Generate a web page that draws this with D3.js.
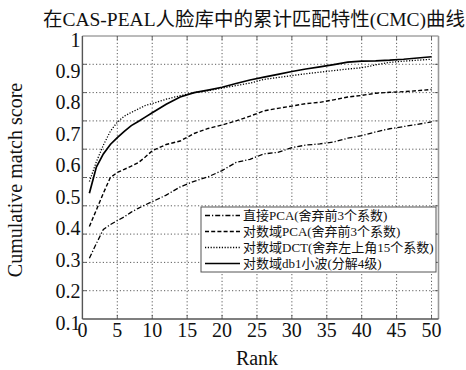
<!DOCTYPE html>
<html>
<head>
<meta charset="utf-8">
<script src="https://cdn.jsdelivr.net/npm/d3@7"></script>
<style>
  html, body { margin: 0; padding: 0; background: #fff; }
  text { font-family: "Liberation Serif", "Noto Sans CJK SC", serif; fill: #111; }
</style>
</head>
<body>
<svg id="chart" width="466" height="370"></svg>
<script>
// rangs
var ranks = [1,2,3,4,5,6,7,8,9,10,12,14,16,18,20,22,24,26,28,30,32,34,36,38,40,42,44,46,48,50];

// 直接PCA (舍弃前3个系数)
var pcaDirect = [0.293,0.340,0.385,0.400,0.413,0.425,0.440,0.452,0.463,0.473,0.494,0.520,0.538,0.552,0.572,0.598,0.608,0.625,0.630,0.645,0.653,0.657,0.663,0.675,0.683,0.695,0.705,0.712,0.719,0.727];
// 对数域PCA (舍弃前3个系数)
var pcaLog = [0.394,0.447,0.500,0.550,0.566,0.576,0.586,0.597,0.615,0.635,0.655,0.666,0.690,0.706,0.717,0.730,0.745,0.762,0.770,0.777,0.785,0.789,0.797,0.806,0.811,0.818,0.821,0.823,0.826,0.830];
// 对数域DCT (舍弃左上角15个系数)
var dctLog = [0.537,0.600,0.653,0.697,0.726,0.745,0.757,0.768,0.779,0.785,0.799,0.810,0.820,0.826,0.834,0.842,0.850,0.862,0.868,0.874,0.880,0.885,0.890,0.895,0.899,0.908,0.916,0.920,0.923,0.926];
// 对数域db1小波 (分解4级)
var db1Log = [0.500,0.583,0.625,0.655,0.677,0.697,0.715,0.728,0.742,0.756,0.783,0.806,0.820,0.828,0.837,0.849,0.860,0.869,0.878,0.887,0.895,0.902,0.909,0.917,0.920,0.921,0.923,0.926,0.930,0.934];

var seriesNames = ["直接PCA(舍弃前3个系数)", "对数域PCA(舍弃前3个系数)", "对数域DCT(舍弃左上角15个系数)", "对数域db1小波(分解4级)"];
var xTicks = [0,5,10,15,20,25,30,35,40,45,50];
var yTicks = [0.1,0.2,0.3,0.4,0.5,0.6,0.7,0.8,0.9,1];
var titre = "在CAS-PEAL人脸库中的累计匹配特性(CMC)曲线";

var styles = [
  {dash: "5,2,1.2,2", width: 1.3},
  {dash: "4,2.2", width: 1.4},
  {dash: "1.2,1.6", width: 1.3},
  {dash: null, width: 1.7}
];
var allSeries = [pcaDirect, pcaLog, dctLog, db1Log];

var pLeft = 82.4, pRight = 438.5, pTop = 36, pBottom = 319;
var toile = d3.select("#chart");

var x = d3.scaleLinear().domain([0, 51]).range([pLeft, pRight]);
var y = d3.scaleLinear().domain([0.1, 1]).range([pBottom, pTop]);
// la grille a 10 divisions (pas alignées sur les étiquettes)
var grid = d3.scaleLinear().domain([0, 10]).range([pBottom, pTop]);

// grille
toile.append("g").selectAll("line")
  .data(d3.range(1, 10))
  .join("line")
  .attr("x1", pLeft).attr("x2", pRight)
  .attr("y1", function(d){ return grid(d); })
  .attr("y2", function(d){ return grid(d); })
  .attr("stroke", "#333")
  .attr("stroke-width", 0.8)
  .attr("stroke-dasharray", "1.2,2.2");
toile.append("g").selectAll("line")
  .data(xTicks.filter(function(d){ return d > 0; }))
  .join("line")
  .attr("x1", function(d){ return x(d); })
  .attr("x2", function(d){ return x(d); })
  .attr("y1", pTop).attr("y2", pBottom)
  .attr("stroke", "#333")
  .attr("stroke-width", 0.8)
  .attr("stroke-dasharray", "1.2,2.2");

// petites graduations sur le cadre
var ticks = toile.append("g").attr("stroke", "#444").attr("stroke-width", 0.8);
d3.range(1, 10).forEach(function(d){
  ticks.append("line").attr("x1", pLeft).attr("x2", pLeft + 4).attr("y1", grid(d)).attr("y2", grid(d));
  ticks.append("line").attr("x1", pRight - 4).attr("x2", pRight).attr("y1", grid(d)).attr("y2", grid(d));
});
xTicks.filter(function(d){ return d > 0; }).forEach(function(d){
  ticks.append("line").attr("x1", x(d)).attr("x2", x(d)).attr("y1", pBottom).attr("y2", pBottom - 4);
  ticks.append("line").attr("x1", x(d)).attr("x2", x(d)).attr("y1", pTop).attr("y2", pTop + 4);
});

// courbes
var line = d3.line()
  .x(function(d){ return x(d[0]); })
  .y(function(d){ return y(d[1]); });
allSeries.forEach(function(vals, i){
  toile.append("path")
    .datum(d3.zip(ranks, vals))
    .attr("d", line)
    .attr("fill", "none")
    .attr("stroke", "#000")
    .attr("stroke-width", styles[i].width)
    .attr("stroke-dasharray", styles[i].dash);
});

// cadre
toile.append("line").attr("x1", pLeft).attr("x2", pRight).attr("y1", pTop).attr("y2", pTop)
  .attr("stroke", "#777").attr("stroke-width", 1);
toile.append("line").attr("x1", pRight).attr("x2", pRight).attr("y1", pTop).attr("y2", pBottom)
  .attr("stroke", "#999").attr("stroke-width", 1.6);
toile.append("line").attr("x1", pLeft).attr("x2", pLeft).attr("y1", pTop).attr("y2", pBottom)
  .attr("stroke", "#555").attr("stroke-width", 1.4);
toile.append("line").attr("x1", pLeft).attr("x2", pRight).attr("y1", pBottom).attr("y2", pBottom)
  .attr("stroke", "#555").attr("stroke-width", 1.4);

// étiquettes des axes
toile.append("g").selectAll("text")
  .data(yTicks)
  .join("text")
  .attr("x", pLeft - 2)
  .attr("y", function(d){ return y(d) + 10.5; })
  .attr("text-anchor", "end")
  .attr("font-size", "20px")
  .text(function(d){ return d3.format("~g")(d); });
toile.append("g").selectAll("text")
  .data(xTicks)
  .join("text")
  .attr("x", function(d){ return x(d); })
  .attr("y", 337)
  .attr("text-anchor", "middle")
  .attr("font-size", "20px")
  .text(function(d){ return d; });

toile.append("text")
  .attr("x", 257).attr("y", 365)
  .attr("text-anchor", "middle")
  .attr("font-size", "20px")
  .text("Rank");
toile.append("text")
  .attr("transform", "translate(22,180) rotate(-90)")
  .attr("text-anchor", "middle")
  .attr("font-size", "20px")
  .text("Cumulative match score");
toile.append("text")
  .attr("x", 43).attr("y", 26)
  .attr("font-size", "19px")
  .attr("textLength", 422)
  .attr("lengthAdjust", "spacingAndGlyphs")
  .text(titre);

// légende
var leg = toile.append("g");
leg.append("rect")
  .attr("x", 201).attr("y", 207)
  .attr("width", 235).attr("height", 65)
  .attr("fill", "#fff")
  .attr("stroke", "#555")
  .attr("stroke-width", 1);
seriesNames.forEach(function(name, i){
  var yc = 215.5 + i*16;
  leg.append("line")
    .attr("x1", 205).attr("x2", 240)
    .attr("y1", yc).attr("y2", yc)
    .attr("stroke", "#000")
    .attr("stroke-width", styles[i].width)
    .attr("stroke-dasharray", styles[i].dash);
  leg.append("text")
    .attr("x", 243).attr("y", yc + 4.5)
    .attr("font-size", "13px")
    .text(name);
});
</script>
</body>
</html>
